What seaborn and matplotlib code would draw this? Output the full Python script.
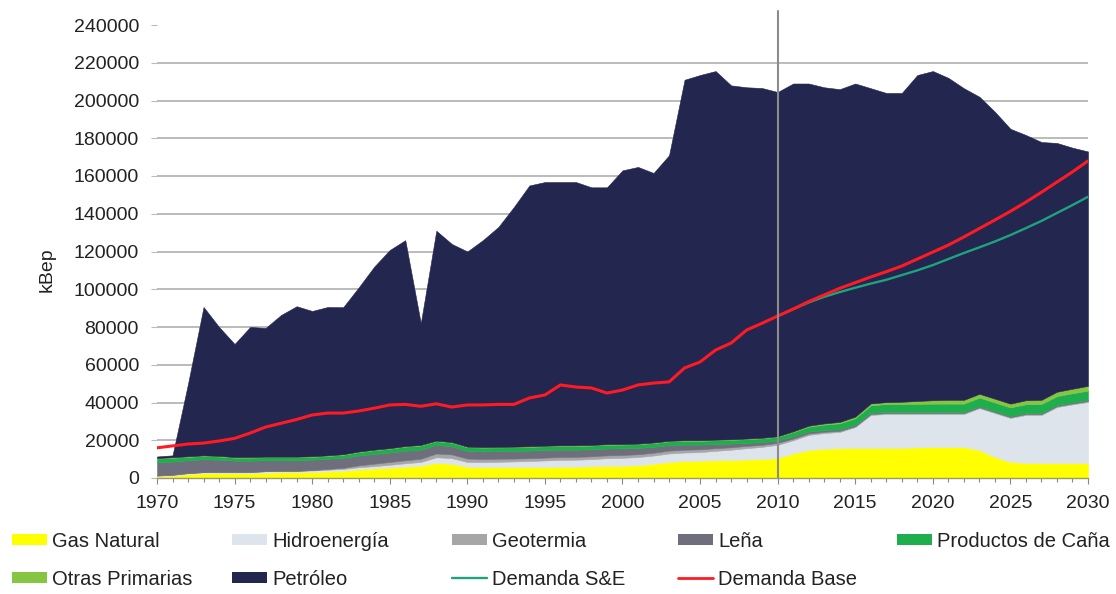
import matplotlib
matplotlib.use("Agg")
import matplotlib.pyplot as plt
import seaborn as sns
import pandas as pd
from matplotlib.patches import Patch
from matplotlib.lines import Line2D
from matplotlib.ticker import MultipleLocator, FixedLocator

# ---------------- data (kBep) ----------------
years = list(range(1970, 2031))

gas_natural = [800, 1200, 2000, 2500, 2500, 2500, 2500, 2800, 3000, 3000,
               3200, 3500, 3800, 4500, 5000, 5500, 6000, 6500, 8000, 7500,
               6000, 5800, 5800, 5800, 5800, 5800, 6000, 6000, 6200, 6500,
               6500, 6800, 7500, 8500, 9000, 9200, 9400, 9500, 9800, 10000,
               10600, 13000, 14800, 15500, 15800, 15900, 15900, 16000, 16000, 16200,
               16400, 16400, 16400, 14800, 11100, 8500, 8000, 7900, 7900, 7900,
               7900]

hidroenergia = [500, 500, 600, 600, 700, 700, 700, 800, 800, 800,
                800, 900, 1000, 1200, 1300, 1500, 1800, 2000, 3000, 3000,
                2500, 2600, 2800, 3000, 3200, 3500, 3600, 3700, 3800, 4000,
                4200, 4300, 4400, 4500, 4500, 4500, 5000, 5500, 6000, 6500,
                7000, 7000, 8000, 8300, 8600, 11100, 17500, 17900, 17900, 17700,
                17500, 17500, 17500, 22200, 23300, 23300, 25400, 25500, 29700, 31100,
                32400]

geotermia = [0, 0, 0, 0, 0, 0, 0, 0, 0, 0,
             200, 400, 600, 1000, 1300, 1500, 1600, 1700, 2000, 2000,
             1800, 1700, 1600, 1500, 1500, 1500, 1500, 1500, 1500, 1500,
             1500, 1500, 1500, 1500, 1500, 1500, 1400, 1300, 1200, 1100,
             1000, 900, 800, 700, 600, 500, 500, 500, 500, 500,
             500, 500, 500, 500, 500, 500, 500, 500, 500, 500,
             500]

lena = [7000, 7000, 6800, 6800, 6500, 6000, 6000, 5800, 5600, 5500,
        5500, 5400, 5300, 5200, 5100, 5000, 5000, 4800, 4500, 4200,
        4000, 4000, 4000, 4000, 4000, 4000, 3900, 3800, 3700, 3600,
        3500, 3300, 3100, 2900, 2700, 2500, 2200, 1900, 1600, 1400,
        1200, 1100, 1000, 900, 800, 700, 600, 600, 500, 500,
        500, 500, 500, 500, 500, 500, 500, 500, 500, 500,
        500]

productos_cana = [2000, 2000, 1800, 1800, 1700, 1600, 1600, 1600, 1600, 1700,
                  1500, 1500, 1600, 1800, 2000, 2000, 2200, 2200, 2000, 2000,
                  2000, 2000, 2000, 2000, 2000, 2000, 2000, 2000, 2000, 2000,
                  2000, 2000, 2000, 2000, 2000, 2000, 2000, 2000, 2000, 2000,
                  2000, 2300, 2600, 2900, 3200, 3500, 4000, 4200, 4300, 4400,
                  4500, 4500, 4500, 4600, 4600, 4600, 4700, 4800, 4800, 4900,
                  5000]

otras_primarias = [300, 300, 300, 300, 300, 300, 300, 300, 300, 300,
                   300, 300, 300, 300, 300, 300, 300, 300, 300, 300,
                   300, 300, 300, 300, 300, 300, 300, 300, 300, 300,
                   300, 300, 300, 300, 300, 300, 300, 300, 300, 300,
                   300, 400, 500, 600, 700, 800, 1000, 1000, 1200, 1500,
                   1800, 2000, 2000, 2000, 2000, 2000, 2100, 2200, 2300, 2400,
                   2500]

petroleo = [800, 1000, 38500, 78600, 68300, 59900, 68900, 68200, 75100, 79700,
            77000, 78600, 77900, 87000, 97000, 105000, 109100, 64500, 111200, 105000,
            103400, 109600, 116500, 127000, 138200, 139700, 139500, 139500, 136500, 136100,
            145000, 146600, 142800, 151300, 191000, 193500, 195300, 187500, 186100, 185300,
            182400, 184300, 181300, 178100, 176300, 176500, 167000, 163800, 163600, 172700,
            174400, 170600, 165100, 157400, 152000, 145600, 140500, 136600, 131800, 127700,
            124200]

demanda_base = [16000, 17000, 18000, 18500, 19600, 21000, 23800, 27000, 29000, 31000,
                33400, 34400, 34400, 35500, 37000, 38700, 39000, 38000, 39300, 37600,
                38700, 38700, 39000, 39000, 42400, 44000, 49300, 48200, 47700, 45000,
                46600, 49300, 50300, 50900, 58300, 61500, 67800, 71500, 78400, 82000,
                85800, 89500, 93500, 97000, 100500, 103500, 106500, 109300, 112300, 116000,
                119700, 123400, 127700, 132200, 136700, 141300, 146200, 151400, 156800, 162200,
                168000]

years_se = list(range(2010, 2031))
demanda_se = [85800, 89500, 93000, 96000, 98500, 100800, 103000, 105000, 107500, 110000,
              112800, 116000, 119200, 122200, 125300, 128700, 132400, 136200, 140400, 144600,
              149000]

series_names = ["Gas Natural", "Hidroenergía", "Geotermia", "Leña",
                "Productos de Caña", "Otras Primarias", "Petróleo"]
series_colors = ["#ffff00", "#dde4ec", "#a6a6a6", "#6e6e7c",
                 "#1fae4e", "#86c541", "#23264f"]
color_se = "#1ea37e"
color_base = "#ff1a24"

y_ticks = list(range(0, 240001, 20000))
x_ticks = list(range(1970, 2031, 5))

# ---------------- plot ----------------
sns.set_theme(style="white")
plt.rcParams['font.family'] = ['Liberation Sans', 'DejaVu Sans']

fig = plt.figure(figsize=(11.16, 5.94), dpi=100)
ax = fig.add_axes([157 / 1116, 1 - 478 / 594, 931 / 1116, 453 / 594])

ax.stackplot(years, gas_natural, hidroenergia, geotermia, lena,
             productos_cana, otras_primarias, petroleo,
             colors=series_colors, edgecolor="face", linewidth=0.4, zorder=2)

df_base = pd.DataFrame({"year": years, "value": demanda_base})
df_se = pd.DataFrame({"year": years_se, "value": demanda_se})
sns.lineplot(data=df_se, x="year", y="value", color=color_se, lw=1.7, ax=ax, zorder=4)
sns.lineplot(data=df_base, x="year", y="value", color=color_base, lw=2.2, ax=ax, zorder=5)

ax.axvline(2010, ymin=0, ymax=1.03, color="#8c8c8c", lw=1.5, zorder=6, clip_on=False)

ax.set_xlim(1970, 2030)
ax.set_ylim(0, 240000)
ax.yaxis.set_major_locator(FixedLocator(y_ticks))
ax.set_yticklabels([str(v) for v in y_ticks])
ax.xaxis.set_major_locator(FixedLocator(x_ticks))
ax.set_xticklabels([str(v) for v in x_ticks])
ax.xaxis.set_minor_locator(MultipleLocator(1))

ax.grid(axis="y", color="#a8a8a8", lw=1.1, zorder=0)
ax.set_axisbelow(True)
ax.yaxis.get_gridlines()[-1].set_visible(False)

for s in ["top", "right", "left"]:
    ax.spines[s].set_visible(False)
ax.spines["bottom"].set_color("#9a9a6a")
ax.spines["bottom"].set_linewidth(1.0)
ax.spines["bottom"].set_zorder(7)

ax.tick_params(axis="y", which="major", left=True, length=4, width=0.8,
               color="#bbbbbb", labelsize=14, labelcolor="#222222", pad=9)
ax.tick_params(axis="x", which="major", bottom=True, length=4, width=0.8,
               color="#888888", labelsize=14, labelcolor="#222222", pad=8)
ax.tick_params(axis="x", which="minor", bottom=True, length=3, width=0.8,
               color="#888888")

ax.set_xlabel("")
ax.set_ylabel("kBep", fontsize=14, color="#222222")
ax.yaxis.set_label_coords(-0.109, 0.46)

# legend: five columns placed like the original, two rows
patches = [Patch(facecolor=c, edgecolor="none", label=n)
           for n, c in zip(series_names, series_colors)]
line_se = Line2D([0], [0], color=color_se, lw=1.7, label="Demanda S&E")
line_base = Line2D([0], [0], color=color_base, lw=2.0, label="Demanda Base")
row1 = patches[:5]
row2 = patches[5:] + [line_se, line_base]
col_x = [12, 232, 452, 678, 897]
for i, x in enumerate(col_x):
    hs = [row1[i]] + ([row2[i]] if i < len(row2) else [])
    fig.legend(handles=hs, labels=[h.get_label() for h in hs],
               loc="upper left", bbox_to_anchor=(x / 1116, 1 - 532 / 594),
               frameon=False, fontsize=14.5, borderpad=0.0, borderaxespad=0.0,
               handlelength=1.75, handleheight=0.45, handletextpad=0.25,
               labelspacing=0.92, labelcolor="#222222")

fig.savefig("out.png", dpi=100)
